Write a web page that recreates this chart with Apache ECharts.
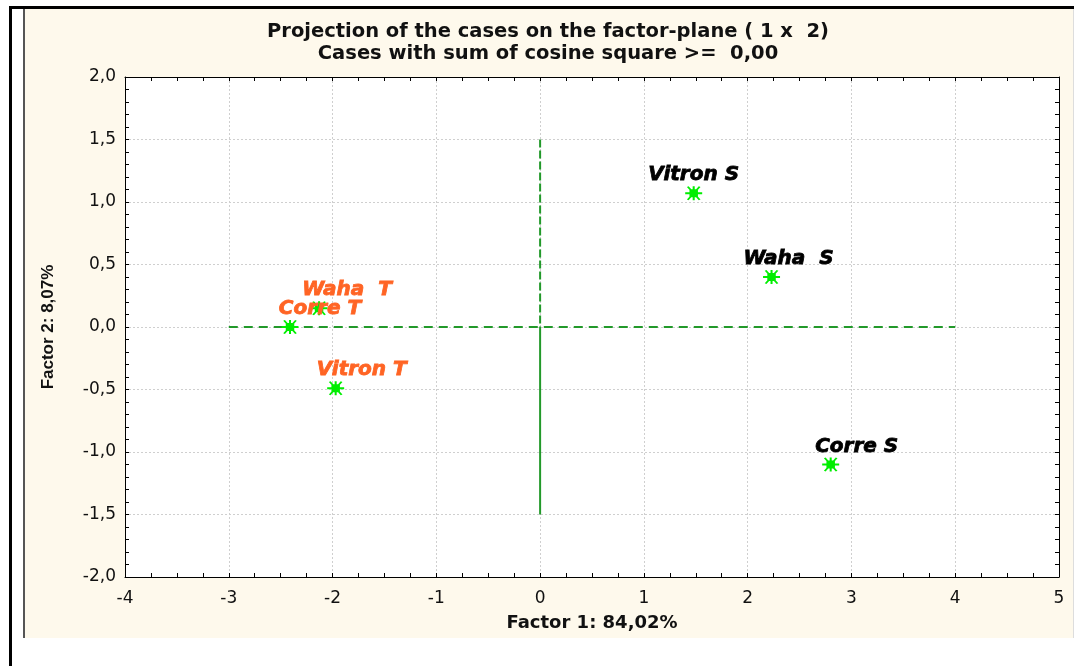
<!DOCTYPE html>
<html><head><meta charset="utf-8">
<script src="https://cdn.jsdelivr.net/npm/echarts@6/dist/echarts.min.js"></script>
<style>
html,body{margin:0;padding:0;background:#fff;}
#frameTop{position:absolute;left:9px;top:6px;width:1065px;height:3px;background:#000;}
#frameLeft{position:absolute;left:9px;top:6px;width:3px;height:660px;background:#000;}
#panel{position:absolute;left:23px;top:9px;width:1048px;height:629px;background:#fef9ec;border-left:2px solid #555;border-right:1px solid #ddd;}
#c{position:absolute;left:0;top:0;width:1074px;height:666px;}
</style>
</head><body>
<div id="frameTop"></div><div id="frameLeft"></div><div id="panel"></div>
<div id="c"></div>
<script>
// ---- data ----
const caseNames = ['Vitron S', 'Waha  S', 'Corre S', 'Waha  T', 'Corre T', 'Vitron T'];
const caseGroup = ['S', 'S', 'S', 'T', 'T', 'T'];
const factor1 = [1.48, 2.23, 2.80, -2.13, -2.41, -1.97];
const factor2 = [1.07, 0.40, -1.10, 0.15, 0.00, -0.49];
const hZeroLine = [[-3, 0], [4, 0]];
const vZeroUpper = [[0, 1.5], [0, 0]];
const vZeroLower = [[0, 0], [0, -1.5]];
const xTicks = [-4, -3, -2, -1, 0, 1, 2, 3, 4, 5];
const yTicks = [-2.0, -1.5, -1.0, -0.5, 0.0, 0.5, 1.0, 1.5, 2.0];
const titleText = 'Projection of the cases on the factor-plane ( 1 x  2)';
const subtitleText = 'Cases with sum of cosine square >=  0,00';
const xName = 'Factor 1: 84,02%';
const yName = 'Factor 2: 8,07%';

// ---- style ----
const labelShift = {'Vitron S': 0, 'Waha  S': 17, 'Corre S': 26, 'Waha  T': 28, 'Corre T': 30, 'Vitron T': 26};
const groupColor = {S: '#000000', T: '#ff6424'};
const asterisk = 'path://M0,6.8 L20,6.8 L20,9.2 L0,9.2 Z M8.8,0 L11.2,0 L11.2,16 L8.8,16 Z M2,0.8 L4,0 L18,15.2 L16,16 Z M16,0 L18,0.8 L4,16 L2,15.2 Z M5,3.5 L15,3.5 L15,12.5 L5,12.5 Z';
const green = '#22992a';

const fmtY = v => v.toFixed(1).replace('.', ',');
const fmtX = v => String(v);

const baseX = {type: 'value', min: xTicks[0], max: xTicks[xTicks.length - 1], interval: 1};
const baseY = {type: 'value', min: yTicks[0], max: yTicks[yTicks.length - 1], interval: 0.5};
const axisLine = {show: true, onZero: false, lineStyle: {color: '#000', width: 1}};
const tick = {show: true, inside: true, length: 4, lineStyle: {color: '#000'}};
const gridLine = {show: true, lineStyle: {color: '#cfcfcf', type: [2, 2], width: 1}};

const chart = echarts.init(document.getElementById('c'));
chart.setOption({
  backgroundColor: 'transparent',
  animation: false,
  title: {
    text: titleText, subtext: subtitleText,
    left: 548, top: 22, textAlign: 'center', itemGap: 2, padding: 0,
    textStyle: {fontFamily: 'DejaVu Sans', fontWeight: 'bold', fontSize: 19.5, color: '#111'},
    subtextStyle: {fontFamily: 'DejaVu Sans', fontWeight: 'bold', fontSize: 19.5, color: '#111'}
  },
  grid: {left: 125, right: 15, top: 77, bottom: 89, show: true, backgroundColor: '#fff', borderWidth: 0, containLabel: false},
  xAxis: [
    Object.assign({}, baseX, {
      position: 'bottom', axisLine, axisTick: tick,
      minorTick: {show: true, splitNumber: 4, length: 4, lineStyle: {color: '#000'}},
      axisLabel: {formatter: fmtX, fontFamily: 'DejaVu Sans', fontSize: 17, color: '#111', margin: 13},
      splitLine: gridLine,
      name: xName, nameLocation: 'middle', nameGap: 37,
      nameTextStyle: {fontFamily: 'DejaVu Sans', fontWeight: 'bold', fontSize: 18, color: '#111'}
    }),
    Object.assign({}, baseX, {
      position: 'top', axisLine, axisTick: tick,
      minorTick: {show: true, splitNumber: 4, length: 4, lineStyle: {color: '#000'}},
      axisLabel: {show: false}, splitLine: {show: false}
    })
  ],
  yAxis: [
    Object.assign({}, baseY, {
      position: 'left', axisLine, axisTick: tick,
      minorTick: {show: true, splitNumber: 5, length: 4, lineStyle: {color: '#000'}},
      axisLabel: {formatter: fmtY, fontFamily: 'DejaVu Sans', fontSize: 17, color: '#111', margin: 9},
      splitLine: gridLine,
      name: yName, nameLocation: 'middle', nameGap: 68, nameRotate: 90,
      nameTextStyle: {fontFamily: 'Liberation Sans', fontWeight: 'bold', fontSize: 17, color: '#111'}
    }),
    Object.assign({}, baseY, {
      position: 'right', axisLine, axisTick: tick,
      minorTick: {show: true, splitNumber: 5, length: 4, lineStyle: {color: '#000'}},
      axisLabel: {show: false}, splitLine: {show: false}
    })
  ],
  series: [
    {type: 'line', data: hZeroLine, symbol: 'none', silent: true, z: 1,
     lineStyle: {color: green, width: 2, type: [9, 6]}},
    {type: 'line', data: vZeroUpper, symbol: 'none', silent: true, z: 1,
     lineStyle: {color: green, width: 2, type: [8, 3]}},
    {type: 'line', data: vZeroLower, symbol: 'none', silent: true, z: 1,
     lineStyle: {color: green, width: 2}},
    {
      type: 'scatter', symbol: asterisk, symbolSize: [17, 14], z: 3,
      itemStyle: {color: '#00ee00', opacity: 1},
      label: {show: true, formatter: '{b}', position: 'inside',
        fontFamily: 'DejaVu Sans', fontWeight: 'bold', fontStyle: 'italic', fontSize: 20},
      data: caseNames.map((n, i) => ({
        name: n, value: [factor1[i], factor2[i]],
        label: {color: groupColor[caseGroup[i]], textBorderColor: groupColor[caseGroup[i]], textBorderWidth: 0.8,
                offset: [labelShift[n], -18]}
      }))
    }
  ]
});
</script>
</body></html>
